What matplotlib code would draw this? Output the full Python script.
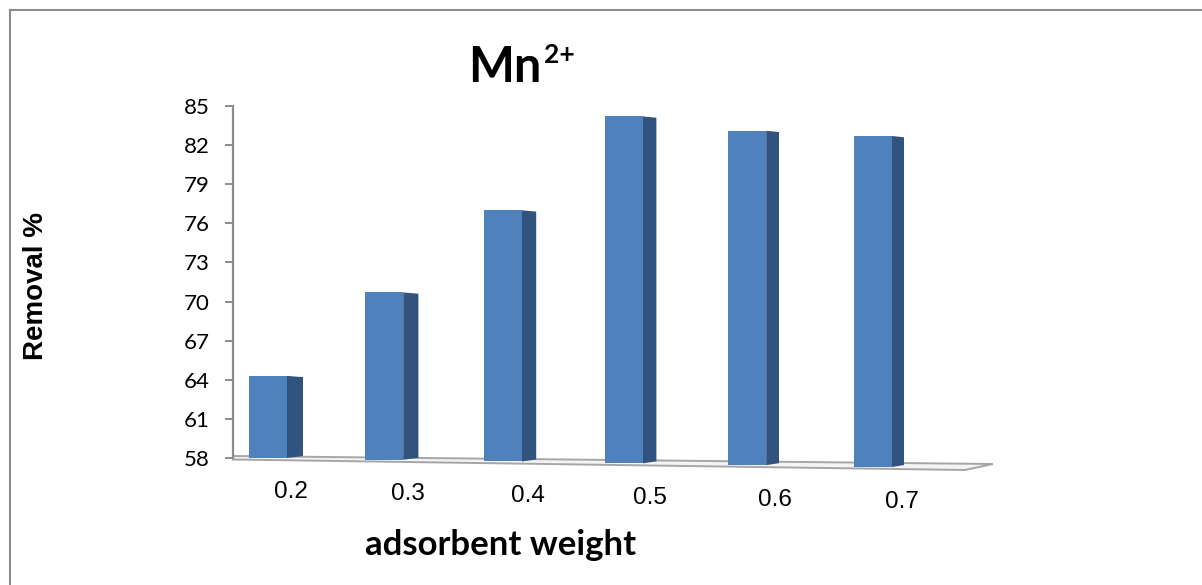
import numpy as np
import matplotlib.pyplot as plt
from matplotlib.patches import Polygon, Rectangle
from matplotlib.lines import Line2D

# data
wagi_adsorbentu = ["0.2", "0.3", "0.4", "0.5", "0.6", "0.7"]
usuniecie = [64.3, 70.7, 77.0, 84.2, 83.1, 82.7]
y_ticks = list(range(58, 86, 3))

W, H = 1202, 585
fig = plt.figure(figsize=(W / 100, H / 100), dpi=100)

# axes placed in pixels (left, right, top, bottom); x axis runs in pixels
L, R, T, B = 233, 993, 106, 458
ax = fig.add_axes([L / W, 1 - B / H, (R - L) / W, (B - T) / H])
ax.set_xlim(L, R)
ax.set_ylim(58, 85)
ax.patch.set_alpha(0)
py = (B - T) / (85 - 58)   # pixels per unit on y


def y_px(p):
    # pixel row -> data value
    return 58 - (p - B) / py


def pozycja(i):
    # slight perspective: spacing grows to the right
    return 268 + 115 * i + 1.2 * i ** 2


def dno(x):
    # bar bottoms follow the tilted floor
    return y_px(458 + (x - 249) * 0.0149)


for s in ["top", "right", "bottom"]:
    ax.spines[s].set_visible(False)
ax.spines["left"].set_color("#8c8c8c")
ax.spines["left"].set_linewidth(1.6)
ax.set_xticks([])
ax.set_yticks(y_ticks)
ax.tick_params(axis="y", length=6, width=1.4, color="#8c8c8c", pad=11,
               labelsize=16)
for lab in ax.get_yticklabels():
    lab.set_family("Lato")

# floor (slanted plate)
floor = Polygon([(L, y_px(456)), (R, y_px(464)), (965, y_px(470)),
                 (L, y_px(459.5))],
                closed=True, facecolor="#f4f4f4", edgecolor="#a6a6a6",
                linewidth=1.4, clip_on=False, zorder=1)
ax.add_patch(floor)

szer = 38
for i, v in enumerate(usuniecie):
    c = pozycja(i)
    lewy = c - szer / 2
    prawy = c + szer / 2
    glab = 16 - 0.8 * i
    d = dno(lewy)
    ax.add_patch(Polygon([(prawy, d), (prawy + glab, d + 0.15),
                          (prawy + glab, v - 0.1), (prawy, v)],
                         closed=True, facecolor="#31537d", edgecolor="none",
                         clip_on=False, zorder=3))
    ax.add_patch(Rectangle((lewy, d), szer, v - d, facecolor="#4f81bd",
                           edgecolor="none", clip_on=False, zorder=4))
    ax.text(c + 23 + 1.1 * i, d - 34.5 / py, wagi_adsorbentu[i],
            ha="center", va="center", fontsize=17.5,
            family="Liberation Sans", clip_on=False)

# titles
fig.text(541 / W, 1 - 82 / H, "Mn", ha="right", va="baseline",
         fontsize=35, fontweight="bold", family="Lato")
fig.text(544 / W, 1 - 63 / H, "2+", ha="left", va="baseline",
         fontsize=19, fontweight="bold", family="Lato")
fig.text(36 / W, 1 - 286 / H, "Removal %", rotation=90, ha="center",
         va="center", fontsize=20, fontweight="bold", family="Liberation Sans")
fig.text(501 / W, 1 - 555 / H, "adsorbent weight", ha="center",
         va="baseline", fontsize=25, fontweight="bold", family="Lato")

# chart frame
fig.add_artist(Line2D([10 / W, 1], [1 - 10 / H, 1 - 10 / H],
                      transform=fig.transFigure, color="#8c8c8c", lw=1.5))
fig.add_artist(Line2D([10 / W, 10 / W], [0, 1 - 10 / H],
                      transform=fig.transFigure, color="#8c8c8c", lw=1.5))

fig.savefig("out.png", dpi=100, facecolor="white")
